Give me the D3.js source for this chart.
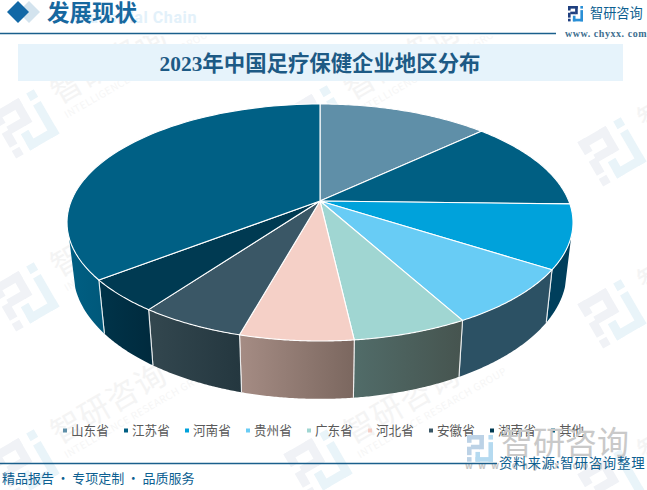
<!DOCTYPE html>
<html><head><meta charset="utf-8">
<script src="https://cdn.jsdelivr.net/npm/d3@7"></script>
<style>html,body{margin:0;padding:0;background:#fff}svg{display:block}</style>
</head><body><div id="c"></div>
<script>
const categories=["山东省","江苏省","河南省","贵州省","广东省","河北省","安徽省","湖南省","其他"];
const seriesValues=[13.0,12.4,8.7,7.9,6.2,6.1,5.7,4.5,35.5];
const topColors=["#5f8fa8","#005f83","#00a2db","#68ccf5","#a0d6d2","#f5d0c7","#3a5766","#003a52","#006085"];
const wallFrom=["#5f8fa8","#003f5c","#003f5c","#2c5164","#516c69","#a58c84","#33474f","#00344a","#005f83"];
const wallTo  =["#5f8fa8","#003f5c","#003f5c","#2c5164","#46544f","#7b675f","#24373f","#002a3d","#00587a"];

const W=647,H=490,blue="#0d5f91",cjk='"Noto Sans CJK SC","Noto Sans",sans-serif',serif='"Liberation Serif","Noto Sans CJK SC",serif';
const svg=d3.select("#c").append("svg").attr("width",W).attr("height",H).attr("viewBox",[0,0,W,H]);
const defs=svg.append("defs");
defs.append("clipPath").attr("id","wmclip").append("rect").attr("x",0).attr("y",36).attr("width",W).attr("height",H-36);

function logo(g,s,c1,c2){
  const r=(x,y,w,h,c)=>g.append("rect").attr("x",x*s).attr("y",y*s).attr("width",w*s).attr("height",h*s).attr("fill",c);
  [[0,0,13,3.5],[9.5,0,3.5,11],[3,7.5,7,3.5],[0,0,3.5,6],[0,9,3.5,6.5],[0,17,3.5,3.5]].forEach(a=>r(...a,c1));
  [[16.5,0,3.5,3.5],[16.5,5.5,3.5,15],[6.5,17,13.5,3.5],[6.5,13,3.5,7.5]].forEach(a=>r(...a,c2));
}
/* background watermark lattice */
const wmAnchors=[[25,122],[25,295],[25,462],[318,118],[318,290],[318,462],[612,150],[612,312],[612,482]];
const wm=svg.append("g").attr("clip-path","url(#wmclip)");
wmAnchors.forEach(([x,y])=>{
  const g=wm.append("g").attr("transform",`translate(${x},${y}) rotate(-30)`);
  logo(g.append("g").attr("transform","translate(-26,-24)"),2.5,"#f0f2f6","#e9f4f9");
  g.append("text").attr("x",38).attr("y",2).attr("font-family",cjk).attr("font-size",31).attr("letter-spacing",1).attr("fill","#f4f4f4").text("智研咨询");
  g.append("text").attr("x",38).attr("y",18).attr("font-family",cjk).attr("font-size",10).attr("letter-spacing",.5).attr("fill","#f6f6f6").text("INTELLIGENCE RESEARCH GROUP");
});

/* header */
const diamond=(cx,cy,r,c)=>svg.append("path").attr("d",`M${cx-r} ${cy}L${cx} ${cy-r}L${cx+r} ${cy}L${cx} ${cy+r}Z`).attr("fill",c);
diamond(29,12,11,"#d3e3ee");diamond(18,12,11,"#1268a6");
svg.append("text").attr("x",197).attr("y",23).attr("text-anchor","end").attr("font-family","Roboto,sans-serif").attr("font-weight",700).attr("font-size",16).attr("letter-spacing",.6).attr("fill","#e3f1fa").text("Industrial Chain");
svg.append("text").attr("x",47).attr("y",21).attr("font-family",cjk).attr("font-weight",700).attr("font-size",22.5).attr("fill","#17689f").text("发展现状");
svg.append("line").attr("x1",0).attr("x2",556).attr("y1",33.5).attr("y2",33.5).attr("stroke","#1a5f8c").attr("stroke-width",1.5);
logo(svg.append("g").attr("transform","translate(568,6)"),.75,"#1f3f7f","#2a8fd6");
svg.append("text").attr("x",590).attr("y",18).attr("font-family",cjk).attr("font-size",13.2).attr("fill",blue).text("智研咨询");
svg.append("text").attr("x",565).attr("y",37).attr("font-family",serif).attr("font-weight",700).attr("font-size",10).attr("letter-spacing",.55).attr("fill","#3d6e8f").text("www. chyxx. com");

/* title */
svg.append("rect").attr("x",18).attr("y",44).attr("width",605).attr("height",37).attr("fill","#e6f3fb");
svg.append("text").attr("x",320).attr("y",70.5).attr("text-anchor","middle").attr("font-family",serif).attr("font-weight",700).attr("font-size",21.4).attr("fill","#1d5a85").text("2023年中国足疗保健企业地区分布");

/* perspective pie */
const CX=320,CY=201,A=248.8,B=114.6,K=0.1814;
function rim(a){const u=Math.sin(a),v=-Math.cos(a),d=1-K*v;return [CX+A*u/d,CY+B*v/d];}
function floor(a){const [x,y]=rim(a);return [CX+(x-CX)*0.975,1.07*y+34];}
const rad=d3.scaleLinear().domain([0,360]).range([0,2*Math.PI]);
const wallStart=rad(107),wallEnd=rad(252.5);
const line=d3.line();
const samples=(a0,a1,f)=>d3.range(0,61).map(i=>f(a0+(a1-a0)*i/60));
const arcs=d3.pie().sort(null).value(d=>d).startAngle(0).endAngle(2*Math.PI)(seriesValues);

const chart=svg.append("g");
arcs.forEach((d,i)=>{
  const a0=Math.max(d.startAngle,wallStart),a1=Math.min(d.endAngle,wallEnd);
  if(a1<=a0)return;
  const pts=samples(a0,a1,rim).concat(samples(a1,a0,floor));
  const xs=pts.map(p=>p[0]);
  const id="w"+i;
  const gr=defs.append("linearGradient").attr("id",id).attr("gradientUnits","userSpaceOnUse")
    .attr("x1",d3.min(xs)).attr("x2",d3.max(xs)).attr("y1",0).attr("y2",0);
  gr.append("stop").attr("offset",0).attr("stop-color",wallFrom[i]);
  gr.append("stop").attr("offset",1).attr("stop-color",wallTo[i]);
  chart.append("path").attr("d",line(pts)+"Z").attr("fill",`url(#${id})`);
  [[a0,d.startAngle>=wallStart],[a1,d.endAngle<=wallEnd]].forEach(([a,show])=>{
    if(show)chart.append("line").attr("x1",rim(a)[0]).attr("y1",rim(a)[1]).attr("x2",floor(a)[0]).attr("y2",floor(a)[1])
      .attr("stroke","#fff").attr("stroke-opacity",.8).attr("stroke-width",1.1);
  });
});
arcs.forEach((d,i)=>{
  const pts=[[CX,CY]].concat(samples(d.startAngle,d.endAngle,rim));
  chart.append("path").attr("d",line(pts)+"Z").attr("fill",topColors[i]).attr("stroke","#fff").attr("stroke-width",1.1).attr("stroke-linejoin","round");
});

/* legend */
const lx=d3.scalePoint().domain(categories).range([63,551]);
const leg=svg.append("g");
categories.forEach((c,i)=>{
  leg.append("rect").attr("x",lx(c)).attr("y",428.5).attr("width",4).attr("height",4).attr("fill",topColors[i]);
  leg.append("text").attr("x",lx(c)+8).attr("y",435).attr("font-family",cjk).attr("font-size",12.6).attr("fill","#595959").text(c);
});

/* bottom */
const big=svg.append("g");
logo(big.append("g").attr("transform","translate(467,435)"),1.3,"#bcd2e6","#b5daf0");
big.append("text").attr("x",501).attr("y",454).attr("font-family",cjk).attr("font-size",32).attr("fill","#c9c9c9").text("智研咨询");
big.append("text").attr("x",465).attr("y",469).attr("font-family",cjk).attr("font-weight",700).attr("font-size",9).attr("letter-spacing",5.4).attr("fill","#c4c4c4").text("www.chyxx.com");
svg.append("line").attr("x1",0).attr("x2",497).attr("y1",463.5).attr("y2",463.5).attr("stroke","#1a5f8c").attr("stroke-width",1.3);
svg.append("text").attr("x",2).attr("y",483).attr("font-family",cjk).attr("font-size",13).attr("fill",blue).text("精品报告\u2009·\u2009专项定制\u2009·\u2009品质服务");
svg.append("text").attr("x",499).attr("y",468).attr("font-family",cjk).attr("font-size",13.4).attr("letter-spacing",.8).attr("fill",blue).text("资料来源:智研咨询整理");
</script></body></html>
